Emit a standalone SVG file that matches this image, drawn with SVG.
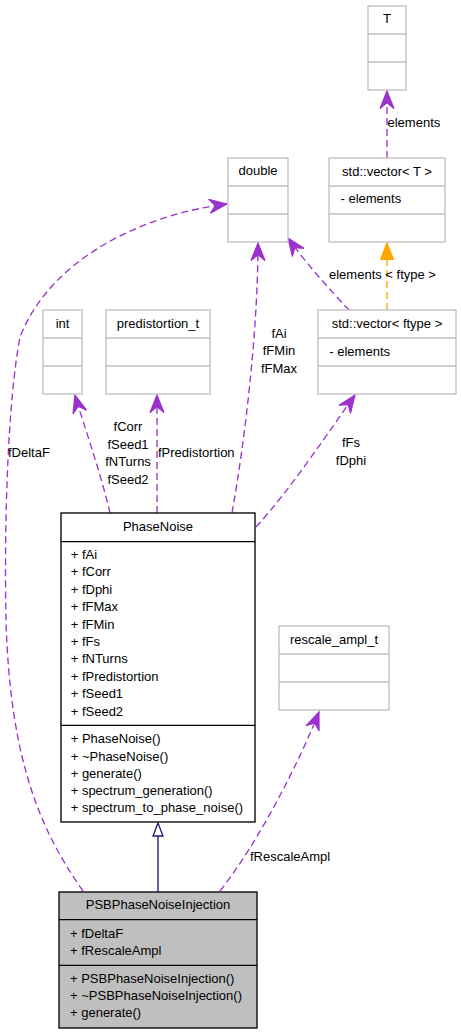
<svg xmlns="http://www.w3.org/2000/svg" width="461" height="1035" viewBox="0 0 461 1035">
<style>
text{font-family:"Liberation Sans",Arial,sans-serif;font-size:13px;fill:#000}
.c{text-anchor:middle}
.g{fill:#fff;stroke:#bfbfbf;stroke-width:1.33}
.gl{stroke:#bfbfbf;stroke-width:1.33}
.b{fill:#fff;stroke:#000;stroke-width:1.33}
.bl{stroke:#000;stroke-width:1.33}
.p{fill:none;stroke:#9a32cd;stroke-width:1.33;stroke-dasharray:7,4}
.o{fill:none;stroke:#ffa500;stroke-width:1.33;stroke-dasharray:7,4}
</style>
<defs>
<marker id="vee" markerUnits="userSpaceOnUse" orient="auto" markerWidth="20" markerHeight="20" refX="0" refY="0" viewBox="-16 -8 17 16" overflow="visible">
<path d="M0,0 L-15,-6 L-10,0 L-15,6 Z" fill="#9a32cd" stroke="#9a32cd" stroke-width="1"/>
</marker>
<marker id="tri" markerUnits="userSpaceOnUse" orient="auto" markerWidth="20" markerHeight="20" refX="0" refY="0" viewBox="-16 -8 17 16" overflow="visible">
<path d="M0,0 L-14,-5.5 L-14,5.5 Z" fill="#ffa500" stroke="#ffa500" stroke-width="1"/>
</marker>
</defs>
<rect width="461" height="1035" fill="#fff"/>

<g id="connectors">
<path class="p" d="M83,891 C40,830 10,760 6,620 C4,520 8,400 20,337 C50,260 140,215 227,204" marker-end="url(#vee)"/>
<path class="p" d="M232,513 C245,440 258,330 258,243" marker-end="url(#vee)"/>
<path class="p" d="M110,513 C100,470 82,420 75,395" marker-end="url(#vee)"/>
<path class="p" d="M157,513 L157,395" marker-end="url(#vee)"/>
<path class="p" d="M256,527 C290,490 330,430 355,395" marker-end="url(#vee)"/>
<path class="p" d="M349,310 C330,290 305,262 288,238" marker-end="url(#vee)"/>
<path class="o" d="M387,310 L387,243" marker-end="url(#tri)"/>
<path class="p" d="M387,158 L387,91" marker-end="url(#vee)"/>
<path class="p" d="M220,891 C260,840 300,760 319,712" marker-end="url(#vee)"/>
<path d="M158,892 L158,836" stroke="#191970" stroke-width="1.33" fill="none"/>
<path d="M158,823 L153,836 L163,836 Z" fill="#fff" stroke="#191970" stroke-width="1.33"/>
<text x="387.5" y="127.4">elements</text>
<text x="329" y="279">elements &lt; ftype &gt;</text>
<text class="c" x="279" y="338">fAi</text>
<text class="c" x="279" y="355.4">fFMin</text>
<text class="c" x="279" y="372.8">fFMax</text>
<text class="c" x="128" y="431.4">fCorr</text>
<text class="c" x="128" y="448.8">fSeed1</text>
<text class="c" x="128" y="466.2">fNTurns</text>
<text class="c" x="128" y="483.6">fSeed2</text>
<text x="158" y="457.4">fPredistortion</text>
<text x="8" y="457.4">fDeltaF</text>
<text class="c" x="351" y="447.4">fFs</text>
<text class="c" x="351" y="465">fDphi</text>
<text x="250" y="861.4">fRescaleAmpl</text>
</g>

<g id="node-T">
<rect class="g" x="368" y="6" width="38" height="84"/>
<line class="gl" x1="368" y1="34" x2="406" y2="34"/>
<line class="gl" x1="368" y1="62" x2="406" y2="62"/>
<text class="c" x="387" y="23">T</text>
</g>

<g id="node-vectorT">
<rect class="g" x="329" y="158" width="116" height="84"/>
<line class="gl" x1="329" y1="186" x2="445" y2="186"/>
<line class="gl" x1="329" y1="214" x2="445" y2="214"/>
<text class="c" x="387" y="175.5">std::vector&lt; T &gt;</text>
<text x="340.5" y="203.4">- elements</text>
</g>

<g id="node-double">
<rect class="g" x="228" y="158" width="60" height="84"/>
<line class="gl" x1="228" y1="186" x2="288" y2="186"/>
<line class="gl" x1="228" y1="214" x2="288" y2="214"/>
<text class="c" x="258" y="175.4">double</text>
</g>

<g id="node-int">
<rect class="g" x="43" y="310" width="39" height="84"/>
<line class="gl" x1="43" y1="338" x2="82" y2="338"/>
<line class="gl" x1="43" y1="366" x2="82" y2="366"/>
<text class="c" x="62.5" y="328">int</text>
</g>

<g id="node-predistortion_t">
<rect class="g" x="106" y="310" width="104" height="84"/>
<line class="gl" x1="106" y1="338" x2="210" y2="338"/>
<line class="gl" x1="106" y1="366" x2="210" y2="366"/>
<text class="c" x="158" y="328">predistortion_t</text>
</g>

<g id="node-vectorftype">
<rect class="g" x="318" y="310" width="138" height="84"/>
<line class="gl" x1="318" y1="338" x2="456" y2="338"/>
<line class="gl" x1="318" y1="366" x2="456" y2="366"/>
<text class="c" x="387" y="328">std::vector&lt; ftype &gt;</text>
<text x="329.3" y="355.7">- elements</text>
</g>

<g id="node-PhaseNoise">
<rect class="b" x="61" y="513" width="194" height="309"/>
<line class="bl" x1="61" y1="541.7" x2="255" y2="541.7"/>
<line class="bl" x1="61" y1="725.3" x2="255" y2="725.3"/>
<text class="c" x="158" y="530.7">PhaseNoise</text>
<text x="70.7" y="559">+ fAi</text>
<text x="70.7" y="576.4">+ fCorr</text>
<text x="70.7" y="593.8">+ fDphi</text>
<text x="70.7" y="611.2">+ fFMax</text>
<text x="70.7" y="628.6">+ fFMin</text>
<text x="70.7" y="646">+ fFs</text>
<text x="70.7" y="663.4">+ fNTurns</text>
<text x="70.7" y="680.8">+ fPredistortion</text>
<text x="70.7" y="698.2">+ fSeed1</text>
<text x="70.7" y="715.6">+ fSeed2</text>
<text x="70.7" y="743.4">+ PhaseNoise()</text>
<text x="70.7" y="760.6">+ ~PhaseNoise()</text>
<text x="70.7" y="777.8">+ generate()</text>
<text x="70.7" y="795">+ spectrum_generation()</text>
<text x="70.7" y="812.2">+ spectrum_to_phase_noise()</text>
</g>

<g id="node-rescale_ampl_t">
<rect class="g" x="279" y="626" width="110" height="84"/>
<line class="gl" x1="279" y1="654" x2="389" y2="654"/>
<line class="gl" x1="279" y1="682" x2="389" y2="682"/>
<text class="c" x="334" y="643.7">rescale_ampl_t</text>
</g>

<g id="node-PSBPhaseNoiseInjection">
<rect x="59" y="892" width="198" height="136" fill="#bfbfbf" stroke="#000" stroke-width="1.33"/>
<line class="bl" x1="59" y1="919.7" x2="257" y2="919.7"/>
<line class="bl" x1="59" y1="965.3" x2="257" y2="965.3"/>
<text class="c" x="158" y="909">PSBPhaseNoiseInjection</text>
<text x="70" y="938">+ fDeltaF</text>
<text x="70" y="955.4">+ fRescaleAmpl</text>
<text x="70" y="983.4">+ PSBPhaseNoiseInjection()</text>
<text x="70" y="1000.4">+ ~PSBPhaseNoiseInjection()</text>
<text x="70" y="1017.4">+ generate()</text>
</g>
</svg>
